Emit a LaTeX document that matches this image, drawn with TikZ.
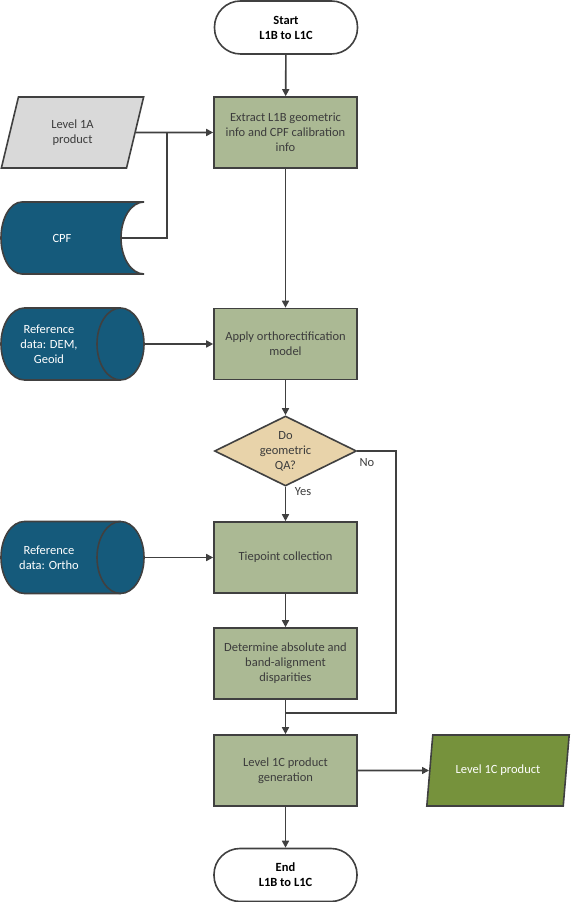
\documentclass[tikz,border=0pt]{standalone}
\usepackage{fontspec}
\setmainfont{Carlito}
\usetikzlibrary{shapes.geometric, arrows.meta, positioning, calc}
\definecolor{edge}{RGB}{64,64,64}
\definecolor{txt}{RGB}{60,60,60}
\definecolor{boxgreen}{RGB}{171,185,148}
\definecolor{qatan}{RGB}{232,211,170}
\definecolor{datablue}{RGB}{21,90,123}
\definecolor{ingray}{RGB}{217,217,217}
\definecolor{outgreen}{RGB}{118,146,60}

\begin{document}
\begin{tikzpicture}[x=1pt,y=1pt,>={Triangle[length=7pt,width=7pt]},
    every node/.style={font=\fontsize{12.5}{15}\selectfont,align=center,text=txt},
    line/.style={draw=edge,line width=1.6pt},
    procbox/.style={draw=edge,line width=1.6pt,fill=boxgreen,minimum width=143pt,minimum height=71pt,inner sep=2pt},
    term/.style={draw=edge,line width=1.6pt,fill=white,rounded corners=26pt,minimum width=143pt,minimum height=53pt,
      font=\fontsize{12.5}{15}\selectfont\bfseries,text=black},
    slanted/.style={draw=edge,line width=1.6pt,trapezium,trapezium left angle=76.5,trapezium right angle=103.5,
      trapezium stretches=true,minimum width=143pt,minimum height=71pt},
    store/.style={draw=edge,line width=1.6pt,fill=datablue},
    lbl/.style={text=txt}]
  \useasboundingbox (0,0) rectangle (571,902);

  \node[term] (start) at (286,874.5) {Start\\L1B to L1C};
  \node[procbox] (extract) at (285.5,769.5) {Extract L1B geometric\\info and CPF calibration\\info};
  \node[slanted,fill=ingray] (l1a) at (72.5,769.5) {Level 1A\\product};

  \filldraw[store] (22,700) -- (144,700)
    arc[start angle=90,end angle=270,x radius=23pt,y radius=36pt] -- (22,628)
    arc[start angle=270,end angle=90,x radius=21pt,y radius=36pt] -- cycle;
  \node[text=white] (cpf) at (62,664) {CPF};
  \coordinate (cpfin) at (121,664);
  \coordinate (jn) at (167,769.5);

  \foreach \yy in {558,344.5} {
    \filldraw[store] (24.5,\yy+36) -- (120.5,\yy+36)
      arc[start angle=90,end angle=-90,x radius=23.5pt,y radius=36pt] -- (24.5,\yy-36)
      arc[start angle=270,end angle=90,x radius=23.5pt,y radius=36pt] -- cycle;
    \draw[edge,line width=1.6pt] (120.5,\yy+36)
      arc[start angle=90,end angle=270,x radius=23.5pt,y radius=36pt];
  }
  \node[text=white] (dem) at (49,558) {Reference\\data: DEM,\\Geoid};
  \coordinate (demout) at (144,558);
  \node[text=white] (ortho) at (49,344.5) {Reference\\data: Ortho};
  \coordinate (orthoout) at (144,344.5);

  \node[procbox] (apply) at (285.5,558) {Apply orthorectification\\model};
  \node[draw=edge,line width=1.6pt,fill=qatan,diamond,aspect=2,inner sep=0pt,
    minimum width=142pt,minimum height=70pt] (qa) at (285.5,451) {Do\\geometric\\QA?};
  \node[lbl] (yes) at (303,410) {Yes};
  \node[lbl] (no) at (367,439) {No};

  \node[procbox] (tie) at (285.5,344.5) {Tiepoint collection};
  \node[procbox] (determine) at (285.5,238.5) {Determine absolute and\\band-alignment\\disparities};
  \coordinate (nobot) at (396,189);
  \coordinate (mg) at (285.5,189);

  \node[procbox] (gen) at (285.5,131.5) {Level 1C product\\generation};
  \node[slanted,fill=outgreen,text=white] (l1c) at (498,131.5) {Level 1C product};
  \node[term] (stop) at (285.5,27) {End\\L1B to L1C};

  \draw[line,->] (start) -- (extract);
  \draw[line,->] (l1a) -- (extract);
  \draw[line] (cpfin) -| (jn);
  \draw[line,->] (extract) -- (apply);
  \draw[line,->] (demout) -- (apply);
  \draw[line,->] (apply) -- (qa);
  \draw[line,->] (qa) -- (tie);
  \draw[line] (qa.east) -| (nobot) -- (mg);
  \draw[line,->] (orthoout) -- (tie);
  \draw[line,->] (tie) -- (determine);
  \draw[line,->] (determine) -- (gen);
  \draw[line,->] (gen) -- (l1c);
  \draw[line,->] (gen) -- (stop);
\end{tikzpicture}
\end{document}
